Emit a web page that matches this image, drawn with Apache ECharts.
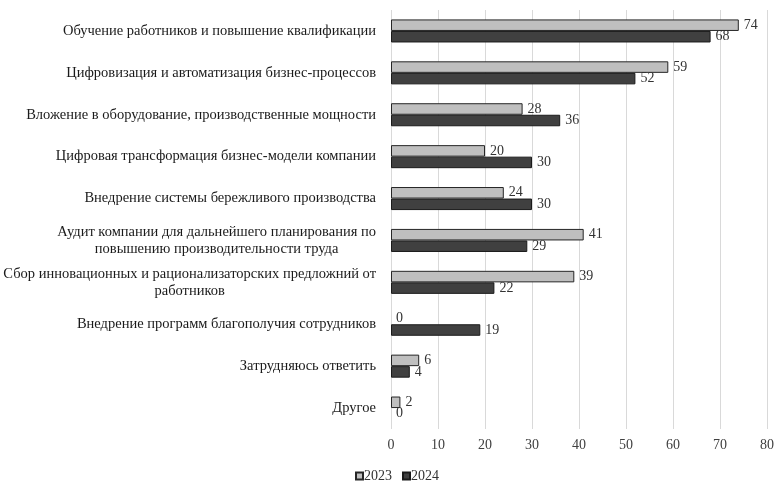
<!DOCTYPE html>
<html>
<head>
<meta charset="utf-8">
<script src="https://cdn.jsdelivr.net/npm/echarts@6/dist/echarts.min.js"></script>
<style>html,body{margin:0;padding:0;background:#fff}#c{width:784px;height:497px}</style>
</head>
<body>
<div id="c"></div>
<script>
const categories = [
  "Обучение работников и повышение квалификации",
  "Цифровизация и автоматизация бизнес-процессов",
  "Вложение в оборудование, производственные мощности",
  "Цифровая трансформация бизнес-модели компании",
  "Внедрение системы бережливого производства",
  "Аудит компании для дальнейшего планирования по\nповышению производительности труда",
  "Сбор инновационных и рационализаторских предложний от\nработников",
  "Внедрение программ благополучия сотрудников",
  "Затрудняюсь ответить",
  "Другое"
];
const values2023 = [74, 59, 28, 20, 24, 41, 39, 0, 6, 2];
const values2024 = [68, 52, 36, 30, 30, 29, 22, 19, 4, 0];
const xTicks = [0, 10, 20, 30, 40, 50, 60, 70, 80];

const FONT = "'Liberation Serif','Times New Roman',serif";
const FS = 14.5;
const chart = echarts.init(document.getElementById('c'), null, {renderer: 'canvas'});
const labelStyle = {show: true, position: 'right', distance: 5, color: '#333333', fontFamily: FONT, fontSize: 14};
function toData(arr) {
  return arr.map(v => v === 0 ? {value: v, itemStyle: {borderWidth: 0}} : v);
}
chart.setOption({
  animation: false,
  grid: {left: 391, right: 17, top: 10, bottom: 68, containLabel: false},
  legend: {
    bottom: 9, left: 350, itemWidth: 7, itemHeight: 7, itemGap: 10, icon: 'rect',
    textStyle: {fontFamily: FONT, fontSize: 14, color: '#333333', padding: [0, 0, 0, -4]},
    data: ['2023', '2024']
  },
  xAxis: {
    type: 'value', min: xTicks[0], max: xTicks[xTicks.length - 1], interval: 10,
    axisLine: {show: false}, axisTick: {show: false},
    splitLine: {lineStyle: {color: '#d9d9d9', width: 1}},
    axisLabel: {fontFamily: FONT, fontSize: 14, color: '#404040', margin: 9}
  },
  yAxis: {
    type: 'category', inverse: true, data: categories,
    axisLine: {show: false}, axisTick: {show: false},
    axisLabel: {
      margin: 15, fontFamily: FONT, fontSize: FS, color: '#1a1a1a', lineHeight: 17,
      formatter: function (v) {
        if (v.indexOf('\n') < 0) return v;
        return v.split('\n').map(s => '{c|' + s + '}').join('\n');
      },
      rich: {c: {align: 'center', fontFamily: FONT, fontSize: FS, color: '#1a1a1a', lineHeight: 17}}
    }
  },
  series: [
    {
      name: '2023', type: 'bar', data: toData(values2023), barGap: '0%', barCategoryGap: '45%',
      itemStyle: {color: '#bfbfbf', borderColor: '#262626', borderWidth: 1},
      label: labelStyle
    },
    {
      name: '2024', type: 'bar', data: toData(values2024),
      itemStyle: {color: '#404040', borderColor: '#1a1a1a', borderWidth: 1},
      label: labelStyle
    }
  ]
});
</script>
</body>
</html>
